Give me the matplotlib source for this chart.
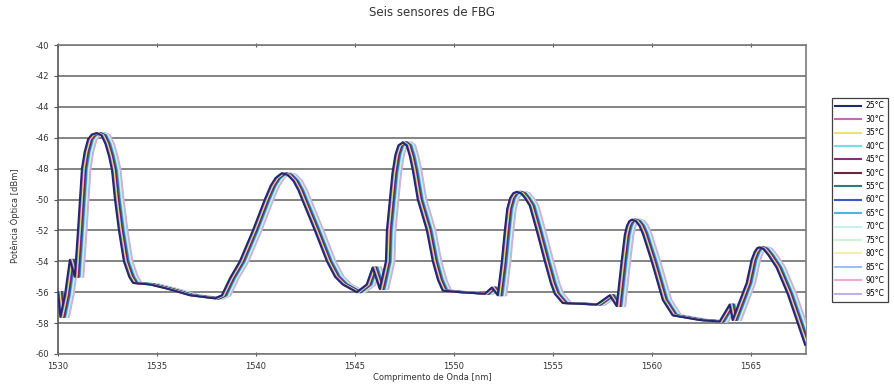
"""Seis sensores de FBG"""
import matplotlib
matplotlib.use('Agg')
import matplotlib.pyplot as plt

plt.rcParams['axes.unicode_minus'] = False

# spectrum (25 C trace), wavelength in nm, power in dBm
wl = [1530.0, 1530.12, 1530.35, 1530.6, 1530.85, 1531.01, 1531.11, 1531.21,
      1531.35, 1531.52, 1531.7, 1531.95, 1532.2, 1532.4, 1532.58, 1532.73,
      1532.88, 1533.08, 1533.33, 1533.6, 1533.79, 1534.65, 1535.6, 1536.67,
      1537.93, 1538.28, 1538.69, 1539.19, 1539.85, 1540.45, 1540.75, 1541.0,
      1541.3, 1541.6, 1541.9, 1542.15, 1542.37, 1542.98, 1543.59, 1544.0,
      1544.39, 1545.1, 1545.6, 1545.9, 1546.26, 1546.57, 1546.62, 1546.77,
      1546.9, 1547.05, 1547.2, 1547.42, 1547.62, 1547.78, 1547.93, 1548.18,
      1548.64, 1548.94, 1549.2, 1549.44, 1550.3, 1551.57, 1551.92, 1552.22,
      1552.42, 1552.58, 1552.7, 1552.85, 1553.0, 1553.18, 1553.4, 1553.6,
      1553.84, 1554.19, 1554.6, 1554.9, 1555.1, 1555.5, 1557.22, 1557.88,
      1558.23, 1558.48, 1558.64, 1558.75, 1558.87, 1559.0, 1559.2, 1559.38,
      1559.55, 1560.0, 1560.56, 1561.06, 1562.42, 1563.43, 1563.94, 1564.09,
      1564.8, 1565.05, 1565.2, 1565.33, 1565.45, 1565.65, 1565.9, 1566.31,
      1566.87, 1567.3, 1567.75]
dbm = [-56.0, -57.6, -56.2, -53.9, -55.0, -52.0, -50.0, -48.0,
       -46.9, -46.1, -45.8, -45.7, -45.85, -46.4, -47.2, -48.1,
       -50.0, -52.0, -54.0, -55.0, -55.4, -55.5, -55.8, -56.2,
       -56.4, -56.2, -55.1, -54.0, -52.0, -50.0, -49.1, -48.6,
       -48.3, -48.4, -48.8, -49.4, -50.1, -52.0, -54.0, -55.0,
       -55.5, -56.0, -55.5, -54.4, -55.8, -54.0, -52.0, -50.0,
       -48.3, -47.1, -46.5, -46.3, -46.5, -47.2, -48.1, -50.0,
       -52.0, -54.0, -55.2, -55.9, -56.0, -56.1, -55.7, -56.2,
       -54.1, -52.0, -50.6, -49.9, -49.6, -49.5, -49.6, -49.9,
       -50.4, -52.0, -54.0, -55.4, -56.1, -56.7, -56.8, -56.2,
       -56.9, -54.0, -52.3, -51.7, -51.4, -51.3, -51.4, -51.7,
       -52.2, -54.0, -56.5, -57.5, -57.8, -57.9, -56.8, -57.8,
       -55.4, -53.9, -53.4, -53.15, -53.1, -53.2, -53.6, -54.4,
       -56.1, -57.7, -59.4]

temps = ['25°C', '30°C', '35°C', '40°C', '45°C', '50°C', '55°C', '60°C',
         '65°C', '70°C', '75°C', '80°C', '85°C', '90°C', '95°C']
# peak shift of each trace against the 25 C trace (nm)
shift = [0.0, 0.03, 0.07, 0.09, 0.12, 0.16, 0.18, 0.21,
         0.25, 0.28, 0.31, 0.33, 0.37, 0.40, 0.43]
colors = ['#1f2a70', '#c468b8', '#efe070', '#70e0ee', '#84307e', '#6e2638',
          '#2a7c80', '#3a56c8', '#48b4ec', '#c8f0f2', '#d4f0d4', '#f6eea8',
          '#98c0f0', '#eeaacc', '#c4aef0']

fig = plt.figure(figsize=(8.95, 3.92), dpi=100)
ax = fig.add_axes([0.0648, 0.097, 0.8358, 0.788])

# low temperatures drawn on top so the dark traces stay visible
n = len(temps)
for i, (t, s, c) in enumerate(zip(temps, shift, colors)):
    ax.plot([w + s for w in wl], dbm, color=c, linewidth=1.5, label=t,
            zorder=3 + n - i)

ax.set_xlim(1530, 1567.8)
ax.set_ylim(-60, -40)
ax.set_yticks(range(-60, -39, 2))
ax.set_xticks(range(1530, 1566, 5))
ax.yaxis.grid(True, color='#7a7a7a', linewidth=1.3)
ax.set_axisbelow(True)
for sp in ax.spines.values():
    sp.set_color('#7a7a7a')
    sp.set_linewidth(1.2)
ax.spines['left'].set_color('#555555')
ax.tick_params(axis='y', labelsize=6, length=3, color='#555555', labelcolor='#333333')
ax.tick_params(axis='x', labelsize=6, length=3, direction='inout', top=True,
               color='#555555', labelcolor='#333333', pad=4)

fig.text(0.483, 0.967, 'Seis sensores de FBG', ha='center', va='center',
         fontsize=8.5, color='#333333')
ax.set_xlabel('Comprimento de Onda [nm]', fontsize=6, color='#333333', labelpad=2)
fig.text(0.017, 0.45, 'Potência Óptica [dBm]', rotation=90, ha='center',
         va='center', fontsize=6, color='#333333')

leg = ax.legend(loc='upper left', bbox_to_anchor=(832 / 895, 1 - 98 / 392),
                bbox_transform=fig.transFigure, fontsize=5.5, fancybox=False,
                edgecolor='#404040', framealpha=1, handlelength=3.4,
                labelspacing=0.58, borderpad=0.45, handletextpad=0.5,
                borderaxespad=0)
leg.get_frame().set_linewidth(0.9)

fig.savefig('out.png', dpi=100)
